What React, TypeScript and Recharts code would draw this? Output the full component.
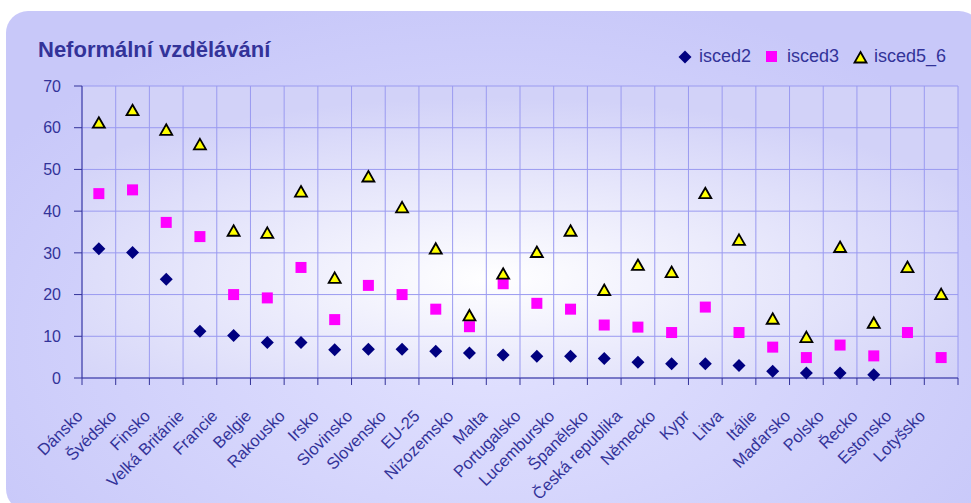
import React from "react";
import { ScatterChart, Scatter, XAxis, YAxis, CartesianGrid } from "recharts";

const categories = [
  "Dánsko", "Švédsko", "Finsko", "Velká Británie", "Francie", "Belgie", "Rakousko",
  "Irsko", "Slovinsko", "Slovensko", "EU-25", "Nizozemsko", "Malta", "Portugalsko",
  "Lucembursko", "Španělsko", "Česká republika", "Německo", "Kypr", "Litva", "Itálie",
  "Maďarsko", "Polsko", "Řecko", "Estonsko", "Lotyšsko",
];
const isced2 = [31.0, 30.1, 23.7, 11.2, 10.2, 8.5, 8.5, 6.8, 6.9, 6.9, 6.4, 6.0, 5.5, 5.2, 5.2, 4.7, 3.8, 3.4, 3.4, 3.0, 1.6, 1.2, 1.2, 0.8, null, null];
const isced3 = [44.2, 45.1, 37.3, 33.9, 20.0, 19.2, 26.5, 14.0, 22.2, 20.0, 16.5, 12.3, 22.6, 17.9, 16.5, 12.7, 12.2, 10.9, 17.0, 10.9, 7.4, 4.9, 7.9, 5.3, 10.9, 4.9];
const isced5_6 = [61.2, 64.2, 59.5, 56.0, 35.3, 34.8, 44.7, 24.0, 48.3, 40.9, 31.0, 15.0, 25.0, 30.2, 35.3, 21.1, 27.1, 25.4, 44.3, 33.1, 14.2, 9.8, 31.4, 13.2, 26.6, 20.1];
const yTicks = [0, 10, 20, 30, 40, 50, 60, 70];
const xBounds = categories.map((_, i) => i).concat(categories.length);

const W = 971, H = 503;
const M = { top: 86, right: 13, left: 0, bottom: 95 };
const Y_W = 82;
const BAND = (W - M.right - M.left - Y_W) / categories.length;
const TXT = "#333399";
const FONT = "'Liberation Sans', Arial, sans-serif";

const toPoints = (vals: (number | null)[]) =>
  vals.map((v, i) => ({ x: i + 0.5, y: v })).filter((p) => p.y !== null);

const Diamond = ({ cx, cy }: any) => (
  <path d={`M${cx},${cy - 6.5}L${cx + 6.5},${cy}L${cx},${cy + 6.5}L${cx - 6.5},${cy}Z`} fill="#000080" />
);
const Square = ({ cx, cy }: any) => (
  <rect x={cx - 5.5} y={cy - 5.5} width={11} height={11} fill="#ff00ff" />
);
const Triangle = ({ cx, cy }: any) => (
  <path d={`M${cx},${cy - 5.5}L${cx + 6},${cy + 5}L${cx - 6},${cy + 5}Z`} fill="#ffff00" stroke="#000" strokeWidth={1.8} />
);

function XTick({ x, y, payload }: any) {
  const i = payload.value;
  if (i >= categories.length) return <g />;
  const ax = x + BAND / 2 - 15;
  const ay = y + 32;
  return (
    <text x={ax} y={ay} transform={`rotate(-45, ${ax}, ${ay})`} textAnchor="end"
      fill={TXT} fontSize={16.5} fontFamily={FONT}>
      {categories[i]}
    </text>
  );
}

export default function App() {
  return (
    <div style={{ position: "absolute", left: 0, top: 0, width: W, height: H, overflow: "hidden", background: "#fff", fontFamily: FONT }}>
      <div style={{
        position: "absolute", left: 6, top: 11, width: 975, height: 500, borderRadius: 22,
        background: "radial-gradient(ellipse 60% 70% at 50% 65%, #e2e2ff 0%, #c8c8f9 100%)",
      }} />
      <div style={{ position: "absolute", left: 38, top: 39, fontSize: 22, lineHeight: "22px", fontWeight: 700, color: TXT }}>
        Neformální vzdělávání
      </div>
      {/* legend */}
      <svg style={{ position: "absolute", left: 0, top: 0 }} width={W} height={80}>
        <Diamond cx={685} cy={57} />
        <Square cx={771.5} cy={56.5} />
        <Triangle cx={860.5} cy={57.5} />
      </svg>
      {[["isced2", 699], ["isced3", 787], ["isced5_6", 874]].map(([t, l]) => (
        <div key={t as string} style={{ position: "absolute", left: l as number, top: 47, fontSize: 18, lineHeight: "18px", color: TXT }}>{t}</div>
      ))}
      <div style={{ position: "absolute", left: 0, top: 0 }}>
        <ScatterChart width={W} height={H} margin={M}>
          <defs>
            <radialGradient id="plotBg" cx="0.47" cy="0.66" r="0.62">
              <stop offset="0%" stopColor="#ffffff" />
              <stop offset="100%" stopColor="#d2d2f8" />
            </radialGradient>
          </defs>
          <CartesianGrid stroke="#9a9af0" fill="url(#plotBg)" fillOpacity={1} />
          <XAxis type="number" dataKey="x" domain={[0, categories.length]} ticks={xBounds}
            interval={0} allowDataOverflow height={30} tickSize={7} tickMargin={0}
            axisLine={{ stroke: TXT }} tickLine={{ stroke: TXT }} tick={<XTick />} />
          <YAxis type="number" dataKey="y" domain={[0, 70]} ticks={yTicks} interval={0} width={Y_W}
            tickSize={8} tickMargin={13} axisLine={{ stroke: TXT }} tickLine={{ stroke: TXT }}
            tick={{ fill: TXT, fontSize: 16, fontFamily: FONT }} />
          <Scatter name="isced2" data={toPoints(isced2)} shape={<Diamond />} isAnimationActive={false} />
          <Scatter name="isced3" data={toPoints(isced3)} shape={<Square />} isAnimationActive={false} />
          <Scatter name="isced5_6" data={toPoints(isced5_6)} shape={<Triangle />} isAnimationActive={false} />
        </ScatterChart>
      </div>
    </div>
  );
}
